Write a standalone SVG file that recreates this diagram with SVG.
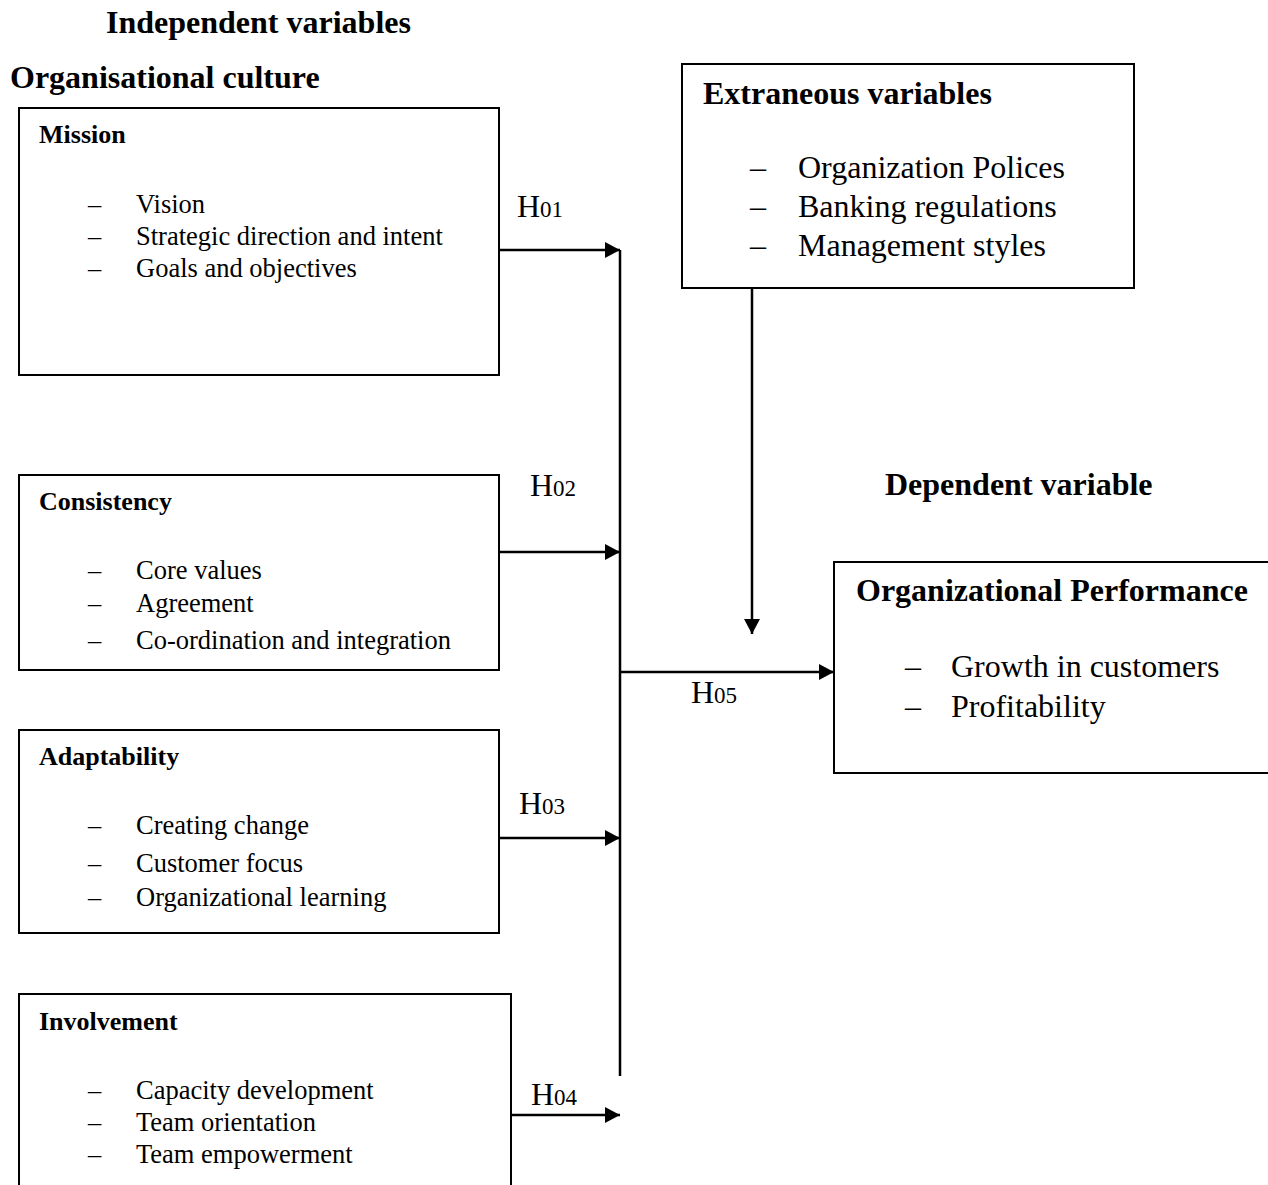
<svg xmlns="http://www.w3.org/2000/svg" width="1268" height="1185" viewBox="0 0 1268 1185">
<style>
text{font-family:"Liberation Serif","Times New Roman",serif;fill:#000}
.h{font-weight:bold;font-size:32px}
.t{font-weight:bold;font-size:26px}
.b{font-size:26.5px}
.B{font-size:32px}
.hl{font-size:32px}
.sub{font-size:23px}
.box{fill:#fff;stroke:#000;stroke-width:2}
.ln{fill:none;stroke:#000;stroke-width:2.5}
</style>
<defs>
<marker id="ar" markerWidth="16" markerHeight="16" refX="15" refY="8" orient="auto" markerUnits="userSpaceOnUse">
<path d="M0,0 L15,8 L0,16 Z" fill="#000"/>
</marker>
</defs>
<rect width="1268" height="1185" fill="#fff"/>
<text class="h" x="106" y="33">Independent variables</text>
<text class="h" x="10" y="88">Organisational culture</text>
<text class="h" x="885" y="495">Dependent variable</text>

<g id="mission">
<rect class="box" x="19" y="108" width="480" height="267"/>
<text class="t" x="39" y="143">Mission</text>
<text class="b" x="88" y="213">–</text><text class="b" x="136" y="213">Vision</text>
<text class="b" x="88" y="245">–</text><text class="b" x="136" y="245">Strategic direction and intent</text>
<text class="b" x="88" y="277">–</text><text class="b" x="136" y="277">Goals and objectives</text>
</g>
<g id="consistency">
<rect class="box" x="19" y="475" width="480" height="195"/>
<text class="t" x="39" y="510">Consistency</text>
<text class="b" x="88" y="579">–</text><text class="b" x="136" y="579">Core values</text>
<text class="b" x="88" y="612">–</text><text class="b" x="136" y="612">Agreement</text>
<text class="b" x="88" y="649">–</text><text class="b" x="136" y="649">Co-ordination and integration</text>
</g>
<g id="adaptability">
<rect class="box" x="19" y="730" width="480" height="203"/>
<text class="t" x="39" y="765">Adaptability</text>
<text class="b" x="88" y="834">–</text><text class="b" x="136" y="834">Creating change</text>
<text class="b" x="88" y="872">–</text><text class="b" x="136" y="872">Customer focus</text>
<text class="b" x="88" y="906">–</text><text class="b" x="136" y="906">Organizational learning</text>
</g>
<g id="involvement">
<rect class="box" x="19" y="994" width="492" height="200"/>
<text class="t" x="39" y="1030">Involvement</text>
<text class="b" x="88" y="1099">–</text><text class="b" x="136" y="1099">Capacity development</text>
<text class="b" x="88" y="1131">–</text><text class="b" x="136" y="1131">Team orientation</text>
<text class="b" x="88" y="1163">–</text><text class="b" x="136" y="1163">Team empowerment</text>
</g>
<g id="extraneous">
<rect class="box" x="682" y="64" width="452" height="224"/>
<text class="h" x="703" y="104">Extraneous variables</text>
<text class="B" x="750" y="178">–</text><text class="B" x="798" y="178">Organization Polices</text>
<text class="B" x="750" y="217">–</text><text class="B" x="798" y="217">Banking regulations</text>
<text class="B" x="750" y="256">–</text><text class="B" x="798" y="256">Management styles</text>
</g>
<g id="performance">
<rect class="box" x="834" y="562" width="440" height="211"/>
<text class="h" x="856" y="601">Organizational Performance</text>
<text class="B" x="905" y="677">–</text><text class="B" x="951" y="677">Growth in customers</text>
<text class="B" x="905" y="717">–</text><text class="B" x="951" y="717">Profitability</text>
</g>

<g id="connectors">
<line class="ln" x1="620" y1="250" x2="620" y2="1076"/>
<line class="ln" x1="499" y1="250" x2="620" y2="250" marker-end="url(#ar)"/>
<line class="ln" x1="499" y1="552" x2="620" y2="552" marker-end="url(#ar)"/>
<line class="ln" x1="499" y1="838" x2="620" y2="838" marker-end="url(#ar)"/>
<line class="ln" x1="511" y1="1115" x2="620" y2="1115" marker-end="url(#ar)"/>
<line class="ln" x1="620" y1="672" x2="834" y2="672" marker-end="url(#ar)"/>
<line class="ln" x1="752" y1="288" x2="752" y2="634" marker-end="url(#ar)"/>
<text class="hl" x="517" y="217">H<tspan class="sub">01</tspan></text>
<text class="hl" x="530" y="496">H<tspan class="sub">02</tspan></text>
<text class="hl" x="519" y="814">H<tspan class="sub">03</tspan></text>
<text class="hl" x="531" y="1105">H<tspan class="sub">04</tspan></text>
<text class="hl" x="691" y="703">H<tspan class="sub">05</tspan></text>
</g>
</svg>
